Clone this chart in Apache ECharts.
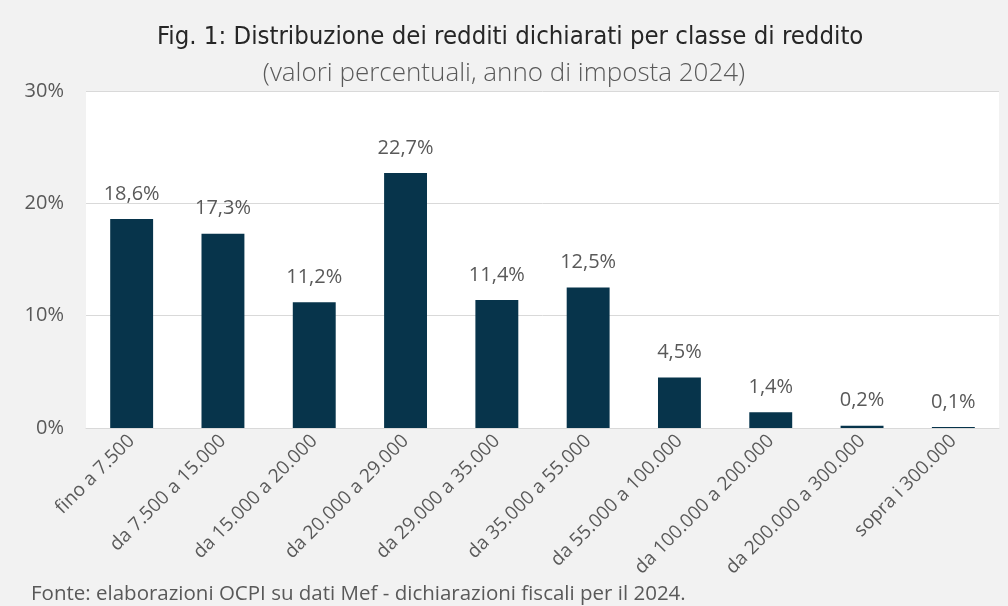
<!DOCTYPE html>
<html>
<head>
<meta charset="utf-8">
<script src="https://cdn.jsdelivr.net/npm/echarts@6/dist/echarts.min.js"></script>
<style>
  html, body { margin: 0; padding: 0; background: #f2f2f2; }
  #chart { width: 1008px; height: 606px; }
</style>
</head>
<body>
<div id="chart"></div>
<script>
const titleText = "Fig. 1: Distribuzione dei redditi dichiarati per classe di reddito";
const subText = "(valori percentuali, anno di imposta 2024)";
const sourceText = "Fonte: elaborazioni OCPI su dati Mef - dichiarazioni fiscali per il 2024.";

const categories = [
  "fino a 7.500",
  "da 7.500 a 15.000",
  "da 15.000 a 20.000",
  "da 20.000 a 29.000",
  "da 29.000 a 35.000",
  "da 35.000 a 55.000",
  "da 55.000 a 100.000",
  "da 100.000 a 200.000",
  "da 200.000 a 300.000",
  "sopra i 300.000"
];
const shares = [18.6, 17.3, 11.2, 22.7, 11.4, 12.5, 4.5, 1.4, 0.2, 0.1];

const GREY = "#595959";
const BAR = "#07344b";
const NARROW = "'Liberation Sans Narrow', 'DejaVu Sans Condensed', sans-serif";
const BODY = "'Open Sans', sans-serif";

function fmtPct(v){
  return v.toFixed(1).replace(".", ",") + "%";
}

const chart = echarts.init(document.getElementById("chart"));

chart.setOption({
  backgroundColor: "#f2f2f2",
  animation: false,
  title: [
    {
      text: titleText,
      left: 152,
      top: 19,
      textStyle: { fontFamily: NARROW, fontSize: 25.5, fontWeight: "normal", color: "#262626" }
    },
    {
      text: subText,
      left: "center",
      top: 56,
      textStyle: { fontFamily: BODY, fontSize: 26, fontWeight: 300, color: GREY }
    },
    {
      text: sourceText,
      left: 26,
      top: 579,
      textStyle: { fontFamily: BODY, fontSize: 20.5, fontWeight: "normal", color: GREY }
    }
  ],
  grid: {
    left: 86, right: 9, top: 91, bottom: 178,
    show: true, backgroundColor: "#ffffff", borderWidth: 0
  },
  xAxis: {
    type: "category",
    data: categories,
    axisLine: { lineStyle: { color: "#d9d9d9", width: 1 } },
    axisTick: { show: false },
    axisLabel: {
      rotate: 45,
      interval: 0,
      margin: 10,
      fontFamily: BODY,
      fontSize: 19,
      color: GREY
    }
  },
  yAxis: {
    type: "value",
    min: 0,
    max: 30,
    interval: 10,
    axisLine: { show: false },
    axisTick: { show: false },
    splitLine: { lineStyle: { color: "#d9d9d9", width: 1 } },
    axisLabel: {
      formatter: v => v + "%",
      margin: 22,
      fontFamily: BODY,
      fontSize: 20,
      color: GREY
    }
  },
  series: [{
    type: "bar",
    data: shares,
    barWidth: "47%",
    itemStyle: { color: BAR },
    label: {
      show: true,
      position: "top",
      distance: 15,
      formatter: p => fmtPct(p.value),
      fontFamily: BODY,
      fontSize: 20,
      color: GREY
    }
  }]
});
</script>
</body>
</html>
